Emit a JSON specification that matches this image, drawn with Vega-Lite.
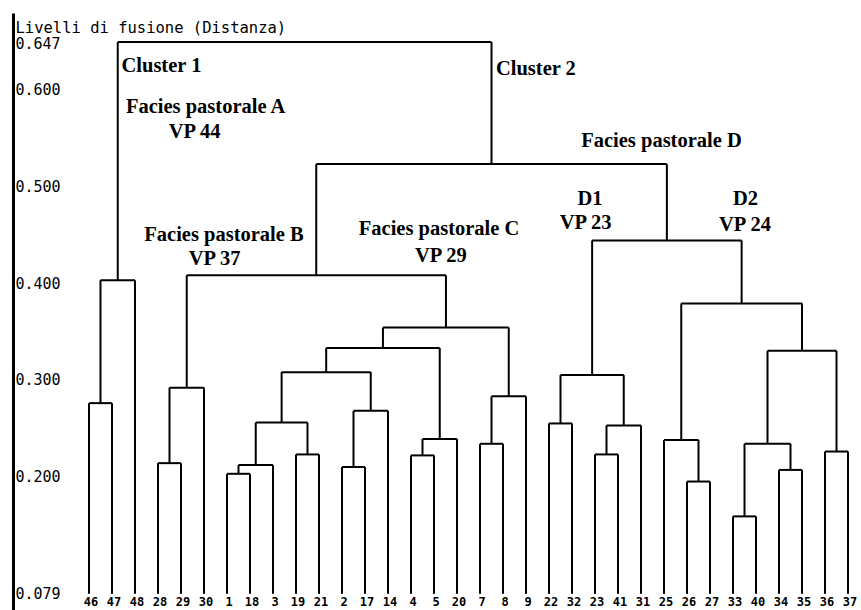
{
  "$schema": "https://vega.github.io/schema/vega-lite/v6.json",
  "autosize": "none",
  "padding": {"left": 13, "top": 13, "right": 0, "bottom": 0},
  "width": 848,
  "height": 597,
  "background": "white",
  "config": {"view": {"stroke": null}},
  "datasets": {
    "merges": [
      {"id": "a", "x1": 0, "x2": 1, "h1": 0.079, "h2": 0.079, "h": 0.276},
      {"id": "b", "x1": 0.5, "x2": 2, "h1": 0.276, "h2": 0.079, "h": 0.403},
      {"id": "c", "x1": 3, "x2": 4, "h1": 0.079, "h2": 0.079, "h": 0.214},
      {"id": "d", "x1": 3.5, "x2": 5, "h1": 0.214, "h2": 0.079, "h": 0.292},
      {"id": "e", "x1": 6, "x2": 7, "h1": 0.079, "h2": 0.079, "h": 0.203},
      {"id": "f", "x1": 6.5, "x2": 8, "h1": 0.203, "h2": 0.079, "h": 0.212},
      {"id": "g", "x1": 9, "x2": 10, "h1": 0.079, "h2": 0.079, "h": 0.223},
      {"id": "h", "x1": 7.25, "x2": 9.5, "h1": 0.212, "h2": 0.223, "h": 0.256},
      {"id": "i", "x1": 11, "x2": 12, "h1": 0.079, "h2": 0.079, "h": 0.210},
      {"id": "j", "x1": 11.5, "x2": 13, "h1": 0.210, "h2": 0.079, "h": 0.268},
      {"id": "k", "x1": 8.375, "x2": 12.25, "h1": 0.256, "h2": 0.268, "h": 0.308},
      {"id": "l", "x1": 14, "x2": 15, "h1": 0.079, "h2": 0.079, "h": 0.222},
      {"id": "m", "x1": 14.5, "x2": 16, "h1": 0.222, "h2": 0.079, "h": 0.239},
      {"id": "n", "x1": 10.3125, "x2": 15.25, "h1": 0.308, "h2": 0.239, "h": 0.333},
      {"id": "o", "x1": 17, "x2": 18, "h1": 0.079, "h2": 0.079, "h": 0.234},
      {"id": "p", "x1": 17.5, "x2": 19, "h1": 0.234, "h2": 0.079, "h": 0.283},
      {"id": "q", "x1": 12.78, "x2": 18.25, "h1": 0.333, "h2": 0.283, "h": 0.354},
      {"id": "r", "x1": 4.25, "x2": 15.52, "h1": 0.292, "h2": 0.354, "h": 0.408},
      {"id": "s", "x1": 20, "x2": 21, "h1": 0.079, "h2": 0.079, "h": 0.255},
      {"id": "t", "x1": 22, "x2": 23, "h1": 0.079, "h2": 0.079, "h": 0.223},
      {"id": "u", "x1": 22.5, "x2": 24, "h1": 0.223, "h2": 0.079, "h": 0.253},
      {"id": "v", "x1": 20.5, "x2": 23.25, "h1": 0.255, "h2": 0.253, "h": 0.305},
      {"id": "w", "x1": 26, "x2": 27, "h1": 0.079, "h2": 0.079, "h": 0.195},
      {"id": "x", "x1": 25, "x2": 26.5, "h1": 0.079, "h2": 0.195, "h": 0.238},
      {"id": "y", "x1": 28, "x2": 29, "h1": 0.079, "h2": 0.079, "h": 0.159},
      {"id": "z", "x1": 30, "x2": 31, "h1": 0.079, "h2": 0.079, "h": 0.207},
      {"id": "aa", "x1": 28.5, "x2": 30.5, "h1": 0.159, "h2": 0.207, "h": 0.234},
      {"id": "bb", "x1": 32, "x2": 33, "h1": 0.079, "h2": 0.079, "h": 0.226},
      {"id": "cc", "x1": 29.5, "x2": 32.5, "h1": 0.234, "h2": 0.226, "h": 0.330},
      {"id": "dd", "x1": 25.75, "x2": 31, "h1": 0.238, "h2": 0.330, "h": 0.379},
      {"id": "ee", "x1": 21.875, "x2": 28.375, "h1": 0.305, "h2": 0.379, "h": 0.444},
      {"id": "ff", "x1": 9.88, "x2": 25.125, "h1": 0.408, "h2": 0.444, "h": 0.523},
      {"id": "root", "x1": 1.25, "x2": 17.5, "h1": 0.403, "h2": 0.523, "h": 0.649}
    ],
    "leaves": [
      {"i": 0, "label": "46"}, {"i": 1, "label": "47"}, {"i": 2, "label": "48"},
      {"i": 3, "label": "28"}, {"i": 4, "label": "29"}, {"i": 5, "label": "30"},
      {"i": 6, "label": "1"}, {"i": 7, "label": "18"}, {"i": 8, "label": "3"},
      {"i": 9, "label": "19"}, {"i": 10, "label": "21"}, {"i": 11, "label": "2"},
      {"i": 12, "label": "17"}, {"i": 13, "label": "14"}, {"i": 14, "label": "4"},
      {"i": 15, "label": "5"}, {"i": 16, "label": "20"}, {"i": 17, "label": "7"},
      {"i": 18, "label": "8"}, {"i": 19, "label": "9"}, {"i": 20, "label": "22"},
      {"i": 21, "label": "32"}, {"i": 22, "label": "23"}, {"i": 23, "label": "41"},
      {"i": 24, "label": "31"}, {"i": 25, "label": "25"}, {"i": 26, "label": "26"},
      {"i": 27, "label": "27"}, {"i": 28, "label": "33"}, {"i": 29, "label": "40"},
      {"i": 30, "label": "34"}, {"i": 31, "label": "35"}, {"i": 32, "label": "36"},
      {"i": 33, "label": "37"}
    ],
    "notes": [
      {"text": "Cluster 1", "x": 3.15, "y": 0.618},
      {"text": "Facies pastorale A", "x": 5.07, "y": 0.576},
      {"text": "VP 44", "x": 4.59, "y": 0.550},
      {"text": "Cluster 2", "x": 19.43, "y": 0.615},
      {"text": "Facies pastorale D", "x": 24.89, "y": 0.541},
      {"text": "D1", "x": 21.78, "y": 0.481},
      {"text": "VP 23", "x": 21.59, "y": 0.456},
      {"text": "D2", "x": 28.54, "y": 0.481},
      {"text": "VP 24", "x": 28.52, "y": 0.454},
      {"text": "Facies pastorale B", "x": 5.87, "y": 0.4435},
      {"text": "VP 37", "x": 5.46, "y": 0.419},
      {"text": "Facies pastorale C", "x": 15.22, "y": 0.4497},
      {"text": "VP 29", "x": 15.30, "y": 0.422}
    ]
  },
  "layer": [
    {
      "data": {"name": "merges"},
      "mark": {"type": "rule", "color": "black", "strokeWidth": 2},
      "encoding": {
        "x": {"field": "x1", "type": "quantitative", "scale": {"domain": [-3.304, 33.565], "nice": false, "zero": false}, "axis": null},
        "y": {"field": "h1", "type": "quantitative", "scale": {"domain": [0.0623, 0.679], "nice": false, "zero": false},
          "axis": {
            "title": "Livelli di fusione (Distanza)",
            "values": [0.079, 0.2, 0.3, 0.4, 0.5, 0.6, 0.647],
            "format": ".3f",
            "orient": "left",
            "grid": false,
            "domainColor": "black",
            "domainWidth": 3,
            "ticks": false,
            "tickSize": 0,
            "labelAlign": "left",
            "labelBaseline": "middle",
            "labelPadding": -2,
            "labelFont": "DejaVu Sans Mono",
            "labelFontSize": 15,
            "labelColor": "black",
            "labelFlush": false,
            "labelOverlap": false,
            "titleAngle": 0,
            "titleAlign": "left",
            "titleBaseline": "alphabetic",
            "titleX": 2,
            "titleY": 19,
            "titleFont": "DejaVu Sans Mono",
            "titleFontSize": 15.5,
            "titleFontWeight": "normal",
            "titleColor": "black"
          }
        },
        "y2": {"field": "h"}
      }
    },
    {
      "data": {"name": "merges"},
      "mark": {"type": "rule", "color": "black", "strokeWidth": 2},
      "encoding": {
        "x": {"field": "x2", "type": "quantitative"},
        "y": {"field": "h2", "type": "quantitative"},
        "y2": {"field": "h"}
      }
    },
    {
      "data": {"name": "merges"},
      "mark": {"type": "rule", "color": "black", "strokeWidth": 2},
      "encoding": {
        "x": {"field": "x1", "type": "quantitative"},
        "x2": {"field": "x2"},
        "y": {"field": "h", "type": "quantitative"}
      }
    },
    {
      "data": {"name": "leaves"},
      "mark": {"type": "text", "font": "DejaVu Sans Mono", "fontWeight": "bold", "fontSize": 12, "baseline": "top", "align": "center", "dy": 3, "dx": 2, "color": "black"},
      "encoding": {
        "x": {"field": "i", "type": "quantitative"},
        "y": {"datum": 0.079, "type": "quantitative"},
        "text": {"field": "label"}
      }
    },
    {
      "data": {"name": "notes"},
      "mark": {"type": "text", "font": "Liberation Serif", "fontWeight": "bold", "fontSize": 20.5, "baseline": "alphabetic", "align": "center", "color": "black"},
      "encoding": {
        "x": {"field": "x", "type": "quantitative"},
        "y": {"field": "y", "type": "quantitative"},
        "text": {"field": "text"}
      }
    }
  ]
}
